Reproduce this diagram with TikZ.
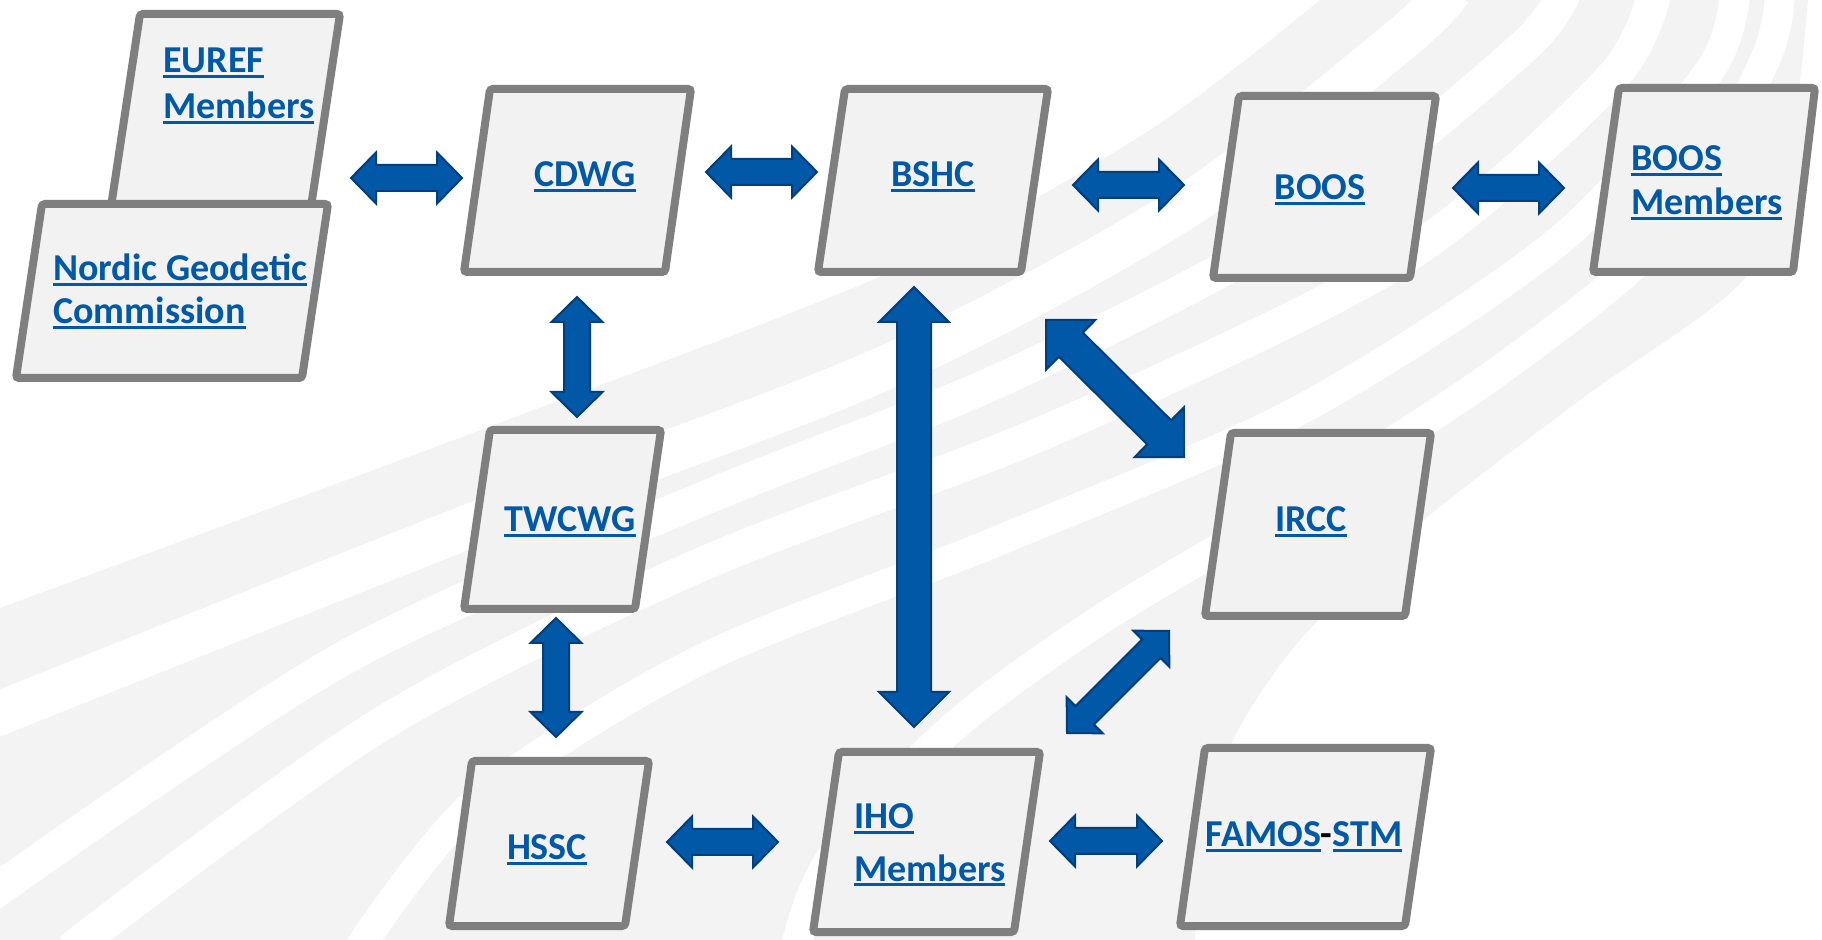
\documentclass[tikz,border=0pt]{standalone}
\usepackage{fontspec}
\setmainfont{Carlito}
\usetikzlibrary{calc}
\definecolor{linkblue}{RGB}{0,88,168}
\definecolor{arrfill}{RGB}{0,88,166}
\definecolor{arrdraw}{RGB}{0,62,125}
\definecolor{boxgray}{RGB}{127,127,127}
\definecolor{boxfill}{RGB}{242,242,242}
\definecolor{bandgray}{RGB}{243,243,243}
\newsavebox{\lnkbox}
\newcommand\lnk[1]{\sbox\lnkbox{#1}\rlap{\rule[-2.4pt]{\wd\lnkbox}{1.5pt}}\usebox\lnkbox}
\newcommand\blockarrow[5]{%
  \coordinate (#1-q1) at ($(#1)!#5!(#2)$);
  \coordinate (#1-q2) at ($(#2)!#5!(#1)$);
  \draw[blockarr] (#1) -- ($(#1-q1)!#4!90:(#2)$) -- ($(#1-q1)!#3!90:(#2)$)
    -- ($(#1-q2)!#3!90:(#2)$) -- ($(#1-q2)!#4!90:(#2)$) -- (#2)
    -- ($(#1-q2)!#4!-90:(#2)$) -- ($(#1-q2)!#3!-90:(#2)$)
    -- ($(#1-q1)!#3!-90:(#2)$) -- ($(#1-q1)!#4!-90:(#2)$) -- cycle;}
\begin{document}
\begin{tikzpicture}[x=0.5pt,y=-0.5pt,
  pbox/.style={draw=boxgray, fill=boxfill, line width=4pt, rounded corners=1.5pt},
  blockarr/.style={draw=arrdraw, fill=arrfill, line width=1pt, line join=miter},
  lbl/.style={text=linkblue, font=\fontsize{19}{23}\selectfont\bfseries, inner sep=0pt},
  stripe/.style={draw=white, line cap=butt}]
\useasboundingbox (0,0) rectangle (1822,940);
\clip (0,0) rectangle (1822,940);
\fill[white] (0,0) rectangle (1822,940);
% background swoosh
\fill[bandgray] (0,608) -- plot[smooth] coordinates {(0,608) (486,428) (900,268) (1150,130) (1320,0)}
  -- plot[smooth] coordinates {(1808,0) (1790,150) (1745,278) (1580,400) (1419,524) (1300,640) (1236,734) (1205,822) (1195,940)}
  -- (0,940) -- cycle;
\draw[stripe, line width=22pt] plot[smooth] coordinates {(-10,717) (470,526) (880,370) (1180,210) (1400,40) (1450,-10)};
\draw[stripe, line width=17pt] plot[smooth] coordinates {(-10,895) (344,658) (700,500) (1000,380) (1300,225) (1520,50) (1565,-10)};
\draw[stripe, line width=17pt] plot[smooth] coordinates {(70,950) (383,723) (700,565) (1050,430) (1400,260) (1610,80) (1655,-10)};
\draw[stripe, line width=15pt] plot[smooth] coordinates {(358,950) (478,800) (700,660) (1000,540) (1300,410) (1560,240) (1710,70) (1735,-10)};
\draw[stripe, line width=15pt] plot[smooth] coordinates {(795,950) (830,860) (950,730) (1100,620) (1300,500) (1500,370) (1670,230) (1765,60) (1780,-10)};
% boxes
\draw[pbox] (140,14) -- (340,14) -- (303,260) -- (103,260) -- cycle;
\draw[pbox] (42,204) -- (328,204) -- (302,378) -- (16,378) -- cycle;
\draw[pbox] (490,89) -- (691,89) -- (665,272) -- (464,272) -- cycle;
\draw[pbox] (845,89) -- (1048,89) -- (1021,272) -- (818,272) -- cycle;
\draw[pbox] (1239,96) -- (1436,96) -- (1410,278) -- (1213,278) -- cycle;
\draw[pbox] (1619,88) -- (1815,88) -- (1793,272) -- (1593,272) -- cycle;
\draw[pbox] (490,430) -- (661,430) -- (635,609) -- (464,609) -- cycle;
\draw[pbox] (1231,433) -- (1431,433) -- (1405,616) -- (1205,616) -- cycle;
\draw[pbox] (472,761) -- (649,761) -- (625,926) -- (449,926) -- cycle;
\draw[pbox] (839,752) -- (1040,752) -- (1014,932) -- (813,932) -- cycle;
\draw[pbox] (1205,748) -- (1431,748) -- (1405,926) -- (1180,926) -- cycle;
% labels
\node[lbl, anchor=base west] (eurefA) at (163,73) {\lnk{EUREF}};
\node[lbl, anchor=base west] (eurefB) at (163,119) {\lnk{Members}};
\node[lbl, anchor=base west] (ngcA) at (53,281) {\lnk{Nordic Geodetic}};
\node[lbl, anchor=base west] (ngcB) at (53,324) {\lnk{Commission}};
\node[lbl, anchor=base] (cdwg) at (585,187) {\lnk{CDWG}};
\node[lbl, anchor=base] (bshc) at (933,187) {\lnk{BSHC}};
\node[lbl, anchor=base] (boos) at (1320,200) {\lnk{BOOS}};
\node[lbl, anchor=base west] (boosmA) at (1631,171) {\lnk{BOOS}};
\node[lbl, anchor=base west] (boosmB) at (1631,215) {\lnk{Members}};
\node[lbl, anchor=base] (twcwg) at (570,532) {\lnk{TWCWG}};
\node[lbl, anchor=base] (ircc) at (1311,532) {\lnk{IRCC}};
\node[lbl, anchor=base] (hssc) at (547,860) {\lnk{HSSC}};
\node[lbl, anchor=base west] (ihoA) at (854,829) {\lnk{IHO}};
\node[lbl, anchor=base west] (ihoB) at (854,881) {\lnk{Members}};
\node[lbl, anchor=base] (famos) at (1304,847) {\lnk{FAMOS}{\color{black}-}\lnk{STM}};
% arrow end points
\coordinate (a1s) at (351,178);  \coordinate (a1e) at (462,178);
\coordinate (a2s) at (706,172);  \coordinate (a2e) at (817,172);
\coordinate (a3s) at (1073,185); \coordinate (a3e) at (1184,185);
\coordinate (a4s) at (1453,188); \coordinate (a4e) at (1564,188);
\coordinate (a5s) at (577,297);  \coordinate (a5e) at (577,417);
\coordinate (a6s) at (556,618);  \coordinate (a6e) at (556,737);
\coordinate (a7s) at (667,842);  \coordinate (a7e) at (778,842);
\coordinate (a8s) at (1050,841); \coordinate (a8e) at (1162,841);
\coordinate (a9s) at (914,287);  \coordinate (a9e) at (914,727);
\coordinate (a10s) at (1046,320); \coordinate (a10e) at (1184,457);
\coordinate (a11s) at (1169,631); \coordinate (a11e) at (1067,733);
\blockarrow{a1s}{a1e}{6.5pt}{12.75pt}{12.5pt}
\blockarrow{a2s}{a2e}{6.5pt}{12.75pt}{12.5pt}
\blockarrow{a3s}{a3e}{6.5pt}{12.75pt}{12.5pt}
\blockarrow{a4s}{a4e}{6.5pt}{12.75pt}{12.5pt}
\blockarrow{a5s}{a5e}{6.5pt}{12.75pt}{12.5pt}
\blockarrow{a6s}{a6e}{6.5pt}{12.75pt}{12.5pt}
\blockarrow{a7s}{a7e}{6.5pt}{12.75pt}{12.5pt}
\blockarrow{a8s}{a8e}{6.5pt}{12.75pt}{12.5pt}
\blockarrow{a9s}{a9e}{8.5pt}{17.5pt}{17.5pt}
\blockarrow{a10s}{a10e}{8.5pt}{17.5pt}{17.5pt}
\blockarrow{a11s}{a11e}{6.5pt}{12.75pt}{12.5pt}
\end{tikzpicture}
\end{document}
